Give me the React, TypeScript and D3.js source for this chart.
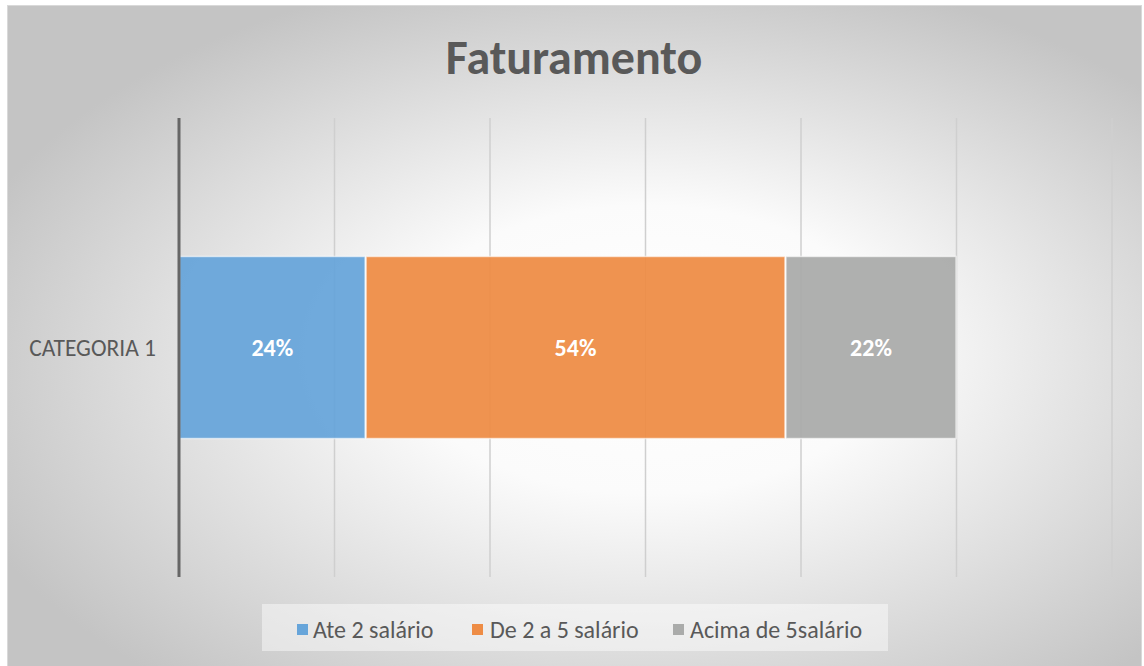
import React from "react";
import * as d3 from "d3";

const categories = ["CATEGORIA 1"];
const seriesNames = ["Ate 2 salário", "De 2 a 5 salário", "Acima de 5salário"];
const seriesValues = [0.24, 0.54, 0.22];
const seriesColors = ["#67A5DA", "#EE8C45", "#AAABAA"];
const xTicks = [0, 0.2, 0.4, 0.6, 0.8, 1.0, 1.2];

const W = 1144;
const H = 666;
const plot = { left: 179, right: 1112, top: 118, bottom: 577 };

export default function App() {
  const x = d3.scaleLinear().domain([0, 1.2]).range([plot.left, plot.right]);
  const y = d3.scaleBand<string>().domain(categories).range([plot.top, plot.bottom]).padding(0.432);

  const stackData = [
    Object.fromEntries(seriesNames.map((n, i) => [n, seriesValues[i]])) as Record<string, number>,
  ];
  const stacked = d3.stack<Record<string, number>>().keys(seriesNames)(stackData);

  const font = "Calibri, Carlito, Lato, 'Open Sans', 'Liberation Sans', sans-serif";

  const legendItems = [
    { sx: 297, tx: 313 },
    { sx: 472, tx: 490 },
    { sx: 673, tx: 690 },
  ];

  return (
    <svg
      width={W}
      height={H}
      style={{ position: "absolute", left: 0, top: 0, display: "block" }}
      fontFamily={font}
    >
      <defs>
        <radialGradient id="bg" cx="55%" cy="55%" r="62%" fx="57%" fy="50%">
          <stop offset="0%" stopColor="#ffffff" />
          <stop offset="35%" stopColor="#fbfbfb" />
          <stop offset="100%" stopColor="#c4c4c4" />
        </radialGradient>
      </defs>
      <rect x={0} y={0} width={W} height={H} fill="#ffffff" />
      <rect x={7.5} y={5.5} width={1134} height={665} fill="url(#bg)" stroke="#d9d9d9" strokeWidth={1} />

      <text x={574} y={74} textAnchor="middle" fontSize={48} fontWeight="bold" fill="#595959">
        Faturamento
      </text>

      {/* gridlines */}
      {xTicks.slice(1).map((t) => (
        <line
          key={t}
          x1={x(t)}
          x2={x(t)}
          y1={plot.top}
          y2={plot.bottom}
          stroke="#cfcfcf"
          strokeWidth={1.5}
        />
      ))}

      {/* bars */}
      {stacked.map((s, i) =>
        s.map((d, j) => (
          <g key={`${i}-${j}`}>
            <rect
              x={x(d[0]) + 0.5}
              y={y(categories[j])!}
              width={x(d[1]) - x(d[0]) - 1}
              height={y.bandwidth()}
              fill={seriesColors[i]}
              fillOpacity={0.94}
              stroke="#ffffff"
              strokeOpacity={0.6}
              strokeWidth={1.5}
            />
            <text
              x={(x(d[0]) + x(d[1])) / 2}
              y={y(categories[j])! + y.bandwidth() / 2}
              dy="0.35em"
              textAnchor="middle"
              fontSize={24}
              fontWeight="bold"
              fill="#ffffff"
            >
              {`${Math.round((d[1] - d[0]) * 100)}%`}
            </text>
          </g>
        ))
      )}

      {/* axis */}
      <line x1={plot.left} x2={plot.left} y1={plot.top} y2={plot.bottom} stroke="#666666" strokeWidth={3} />

      {categories.map((c) => (
        <text
          key={c}
          x={156}
          y={y(c)! + y.bandwidth() / 2}
          dy="0.35em"
          textAnchor="end"
          fontSize={23.5}
          fill="#595959"
        >
          {c}
        </text>
      ))}

      {/* legend */}
      <rect x={262} y={604} width={626} height={47} fill="#ffffff" fillOpacity={0.45} />
      {seriesNames.map((n, i) => (
        <g key={n}>
          <rect x={legendItems[i].sx} y={624} width={11} height={11} fill={seriesColors[i]} />
          <text x={legendItems[i].tx} y={630} dy="0.35em" fontSize={24} fill="#595959">
            {n}
          </text>
        </g>
      ))}
    </svg>
  );
}
